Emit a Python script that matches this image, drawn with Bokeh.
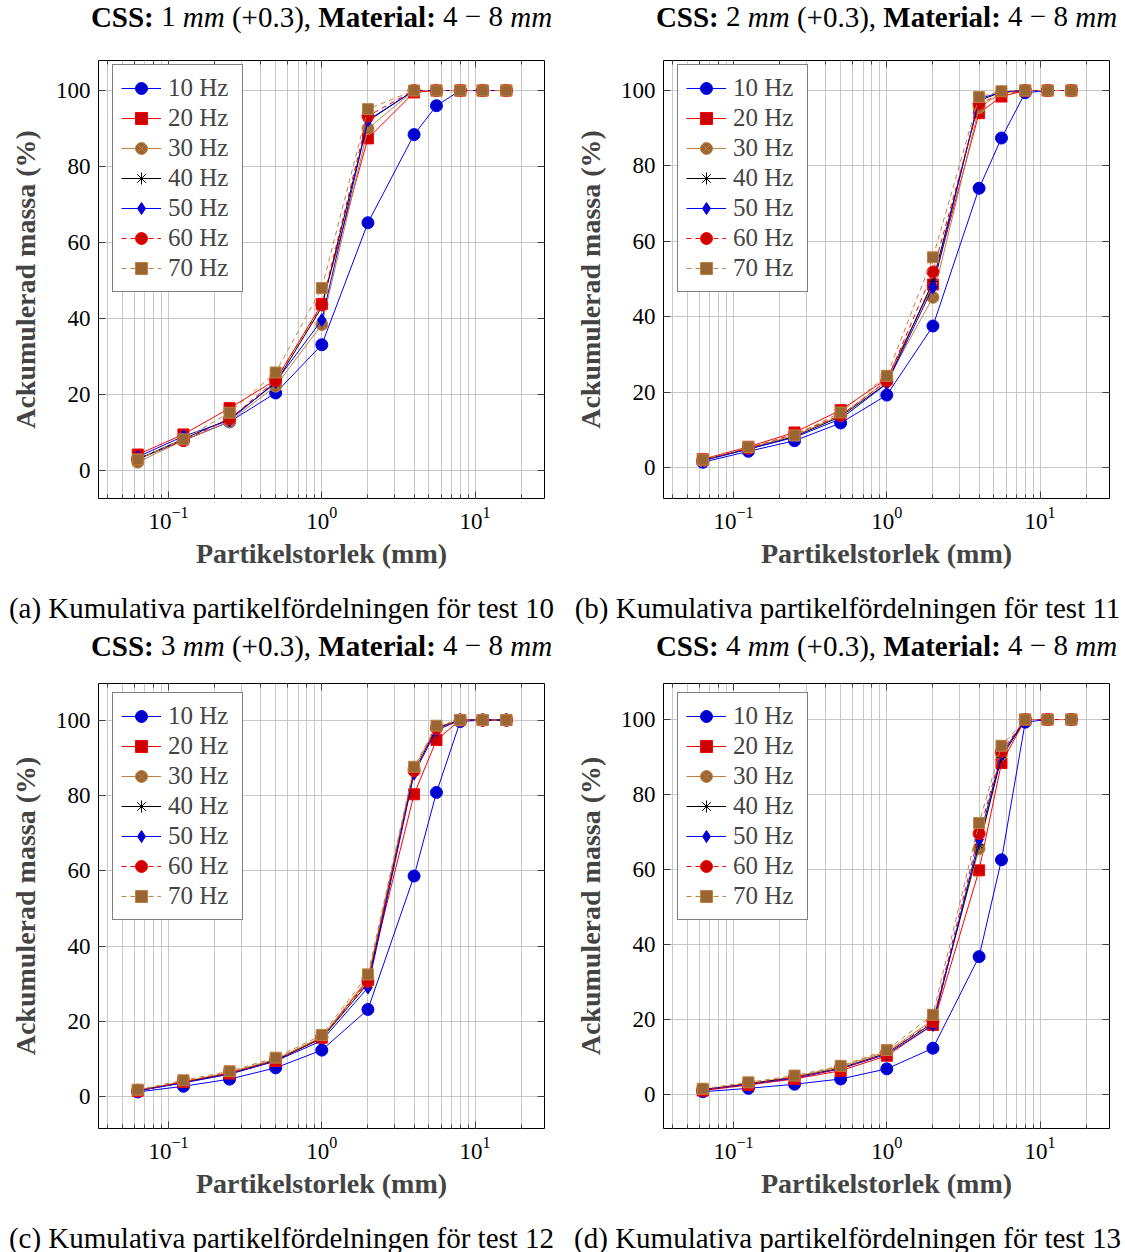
from bokeh.plotting import figure
from bokeh.models import (Range1d, LogAxis, LinearAxis, LogTicker, FixedTicker,
                          Legend, LegendItem)
from bokeh.core.properties import value
from bokeh.layouts import column, row
from bokeh.embed import file_html
from bokeh.resources import INLINE

# ---------------- data ----------------
sizes = [0.063, 0.125, 0.25, 0.5, 1, 2, 4, 5.6, 8, 11.2, 16]
freq_labels = ["10 Hz", "20 Hz", "30 Hz", "40 Hz", "50 Hz", "60 Hz", "70 Hz"]
y_ticks = [0, 20, 40, 60, 80, 100]

# test 10 (CSS 1 mm)
t10_10 = [3.0, 7.9, 12.8, 20.4, 33.1, 65.2, 88.4, 96.0, 100, 100, 100]
t10_20 = [4.2, 9.5, 16.4, 23.8, 43.8, 87.4, 99.5, 100, 100, 100, 100]
t10_30 = [2.2, 7.9, 12.9, 22.2, 38.4, 90.0, 100, 100, 100, 100, 100]
t10_40 = [3.0, 8.3, 13.6, 23.0, 43.0, 92.0, 100, 100, 100, 100, 100]
t10_50 = [3.6, 9.0, 13.2, 23.3, 39.6, 92.2, 100, 100, 100, 100, 100]
t10_60 = [3.0, 7.9, 13.6, 23.7, 43.6, 93.3, 100, 100, 100, 100, 100]
t10_70 = [2.9, 8.2, 15.2, 25.8, 48.0, 95.1, 100, 100, 100, 100, 100]

# test 11 (CSS 2 mm)
t11_10 = [1.5, 4.4, 7.2, 11.9, 19.3, 37.6, 74.1, 87.4, 99.4, 100, 100]
t11_20 = [2.3, 5.6, 9.4, 15.3, 23.6, 48.6, 94.0, 98.4, 100, 100, 100]
t11_30 = [1.9, 5.2, 8.6, 13.9, 23.0, 45.2, 95.5, 99.3, 100, 100, 100]
t11_40 = [2.1, 5.0, 8.3, 13.6, 22.4, 49.4, 97.3, 99.6, 100, 100, 100]
t11_50 = [1.9, 5.0, 8.1, 13.0, 22.3, 47.9, 97.8, 99.6, 100, 100, 100]
t11_60 = [2.1, 5.2, 9.0, 13.9, 23.0, 51.9, 96.5, 99.1, 100, 100, 100]
t11_70 = [2.2, 5.5, 8.6, 14.7, 24.4, 55.8, 98.3, 99.8, 100, 100, 100]

# test 12 (CSS 3 mm)
t12_10 = [1.3, 2.8, 4.7, 7.7, 12.4, 23.2, 58.6, 80.8, 99.6, 100, 100]
t12_20 = [1.6, 4.0, 6.2, 9.5, 15.7, 31.0, 80.3, 94.7, 100, 100, 100]
t12_30 = [1.8, 4.0, 6.5, 10.0, 15.9, 31.4, 87.2, 98.2, 100, 100, 100]
t12_40 = [1.6, 3.8, 6.2, 9.7, 15.5, 30.1, 86.3, 97.8, 100, 100, 100]
t12_50 = [1.6, 3.7, 6.0, 9.5, 14.9, 29.0, 85.8, 97.3, 100, 100, 100]
t12_60 = [1.6, 4.0, 6.3, 9.7, 15.7, 30.6, 86.5, 97.8, 100, 100, 100]
t12_70 = [1.9, 4.4, 6.8, 10.4, 16.4, 32.5, 87.6, 98.5, 100, 100, 100]

# test 13 (CSS 4 mm)
t13_10 = [0.8, 1.7, 2.8, 4.2, 6.9, 12.4, 36.8, 62.6, 99.3, 100, 100]
t13_20 = [1.1, 2.6, 4.2, 6.4, 10.4, 18.6, 59.8, 88.4, 100, 100, 100]
t13_30 = [1.4, 3.0, 4.8, 7.5, 11.5, 19.9, 65.6, 90.7, 100, 100, 100]
t13_40 = [1.3, 2.9, 4.6, 7.1, 11.1, 19.1, 66.6, 89.9, 100, 100, 100]
t13_50 = [1.3, 2.8, 4.4, 6.9, 10.8, 18.6, 68.0, 90.7, 100, 100, 100]
t13_60 = [1.3, 2.9, 4.6, 6.9, 11.1, 19.5, 69.6, 91.5, 100, 100, 100]
t13_70 = [1.6, 3.3, 5.1, 7.7, 11.9, 21.3, 72.4, 93.0, 100, 100, 100]

css_values = ["1", "2", "3", "4"]
test_numbers = ["10", "11", "12", "13"]
panel_letters = ["a", "b", "c", "d"]

# ---------------- styles ----------------
STYLES = [
    dict(line="#0000ff", fill="#0000cc", marker="circle", size=12, dash="solid"),
    dict(line="#ff0000", fill="#cc0000", marker="square", size=11, dash="solid"),
    dict(line="#bf8040", fill="#996633", marker="circle_x", size=12, dash="solid"),
    dict(line="#000000", fill="#000000", marker="asterisk", size=9, dash="solid"),
    dict(line="#0000ff", fill="#0000cc", marker="diamond", size=13, dash="solid"),
    dict(line="#ff0000", fill="#cc0000", marker="circle", size=12, dash="5 4"),
    dict(line="#bf8040", fill="#996633", marker="square", size=11, dash="5 4"),
]

SERIF = "Liberation Serif"
X0, X1 = 10 ** -1.457, 10 ** 1.453
GRID = "#c8c8c8"
TICK = "#404040"
W = 1125


def style_axis(ax, labels=True):
    ax.axis_line_color = None
    ax.major_tick_in = 7
    ax.major_tick_out = 0
    ax.minor_tick_in = 4
    ax.minor_tick_out = 0
    ax.major_tick_line_color = TICK
    ax.minor_tick_line_color = TICK
    if labels:
        ax.major_label_text_font = SERIF
        ax.major_label_text_font_size = "23px"
        ax.major_label_text_color = "black"
    else:
        ax.major_label_text_font_size = "1px"
        ax.major_label_text_color = None
        ax.major_label_standoff = 0


def text_fig(height):
    f = figure(width=W, height=height, x_range=Range1d(0, W),
               y_range=Range1d(0, height), output_backend="svg",
               toolbar_location=None, min_border=0, title=None)
    f.axis.visible = False
    f.grid.visible = False
    f.outline_line_color = None
    f.background_fill_color = "white"
    f.border_fill_color = "white"
    return f


def add_title(f, idx, x_center, baseline):
    F = 29.0
    segs = [("CSS:", "bold", 0.0), (css_values[idx], "normal", 2.417),
            ("mm", "italic", 3.167), ("(+0.3),", "normal", 4.861),
            ("Material:", "bold", 7.841), ("4", "normal", 12.145),
            ("\u2212", "normal", 12.895), ("8", "normal", 13.709),
            ("mm", "italic", 14.459)]
    total = 15.903 * F
    x_start = x_center - total / 2
    for txt, sty, off in segs:
        f.text(x=[x_start + off * F], y=[baseline], text=[txt],
               text_font=value(SERIF), text_font_style=sty,
               text_font_size=f"{F:.0f}px", text_baseline="alphabetic",
               text_align="left", text_color="black")


def add_caption(f, idx, x_center, baseline):
    f.text(x=[x_center], y=[baseline],
           text=[f"({panel_letters[idx]}) Kumulativa partikelfördelningen för test {test_numbers[idx]}"],
           text_font=value(SERIF), text_font_size="29px",
           text_baseline="alphabetic", text_align="center", text_color="black")


def make_panel(series, width, height, ml, mr, mt, mb, y0, y1, leg_top):
    fh = height - mt - mb
    p = figure(width=width, height=height, x_axis_type="log",
               x_range=Range1d(X0, X1), y_range=Range1d(y0, y1),
               output_backend="svg", toolbar_location=None,
               min_border_left=ml, min_border_right=mr,
               min_border_top=mt, min_border_bottom=mb)
    p.outline_line_color = "black"
    p.outline_line_width = 1
    p.background_fill_color = "white"
    p.border_fill_color = "white"

    p.xgrid.grid_line_color = GRID
    p.xgrid.minor_grid_line_color = GRID
    p.ygrid.grid_line_color = GRID
    p.ygrid.ticker = FixedTicker(ticks=y_ticks)

    xa = p.xaxis[0]
    style_axis(xa)
    xa.major_label_standoff = 8
    xa.axis_label = "Partikelstorlek (mm)"
    xa.axis_label_text_font = SERIF
    xa.axis_label_text_font_style = "bold"
    xa.axis_label_text_font_size = "28px"
    xa.axis_label_standoff = 6

    ya = p.yaxis[0]
    ya.ticker = FixedTicker(ticks=y_ticks)
    style_axis(ya)
    ya.minor_tick_line_color = None
    ya.major_label_standoff = 8
    ya.axis_label = "Ackumulerad massa (%)"
    ya.axis_label_text_font = SERIF
    ya.axis_label_text_font_style = "bold"
    ya.axis_label_text_font_size = "28px"
    ya.axis_label_standoff = 12

    top = LogAxis(ticker=LogTicker())
    style_axis(top, labels=False)
    p.add_layout(top, "above")
    right = LinearAxis(ticker=FixedTicker(ticks=y_ticks))
    style_axis(right, labels=False)
    right.minor_tick_line_color = None
    p.add_layout(right, "right")

    items = []
    for vals, lab, st in zip(series, freq_labels, STYLES):
        rl = p.line(sizes, vals, line_color=st["line"], line_width=1,
                    line_dash=st["dash"])
        rs = p.scatter(sizes, vals, marker=st["marker"], size=st["size"],
                       fill_color=st["fill"], line_color=st["line"],
                       line_width=1)
        items.append(LegendItem(label=lab, renderers=[rl, rs]))

    gh, pad = 30, 8
    leg_h = len(items) * gh + 2 * pad
    leg = Legend(items=items, location=(14, fh - leg_top - leg_h),
                 label_text_font=SERIF, label_text_font_size="25px",
                 glyph_width=40, glyph_height=gh, label_height=gh,
                 label_width=66,
                 spacing=0, padding=pad, label_standoff=7, margin=0,
                 border_line_color="black", border_line_width=1,
                 background_fill_color="white", background_fill_alpha=1)
    p.add_layout(leg)
    return p


# top block: title row 0..55, plots 55..580 (frames 60..498), captions 580..626
t_top = text_fig(55)
add_title(t_top, 0, 321, 39)
add_title(t_top, 1, 886, 39)
pa = make_panel([t10_10, t10_20, t10_30, t10_40, t10_50, t10_60, t10_70],
                562, 525, 98, 18, 5, 82, -7.37, 107.9, 6)
pb = make_panel([t11_10, t11_20, t11_30, t11_40, t11_50, t11_60, t11_70],
                563, 525, 101, 16, 5, 82, -8.1, 107.95, 6)
c_top = text_fig(46)
add_caption(c_top, 0, 281, 19)
add_caption(c_top, 1, 847, 19)

# bottom block: title row 626..678, plots 678..1210 (frames 683..1128), captions 1210..1252
t_bot = text_fig(52)
add_title(t_bot, 2, 321, 33)
add_title(t_bot, 3, 886, 33)
pc = make_panel([t12_10, t12_20, t12_30, t12_40, t12_50, t12_60, t12_70],
                562, 532, 98, 18, 5, 82, -8.4, 109.7, 11)
pd = make_panel([t13_10, t13_20, t13_30, t13_40, t13_50, t13_60, t13_70],
                563, 532, 101, 16, 5, 82, -9.0, 109.6, 11)
c_bot = text_fig(42)
add_caption(c_bot, 2, 281, 15)
add_caption(c_bot, 3, 847, 15)

layout = column(t_top, row(pa, pb), c_top, t_bot, row(pc, pd), c_bot)
open("out.html", "w").write(file_html(layout, INLINE))
